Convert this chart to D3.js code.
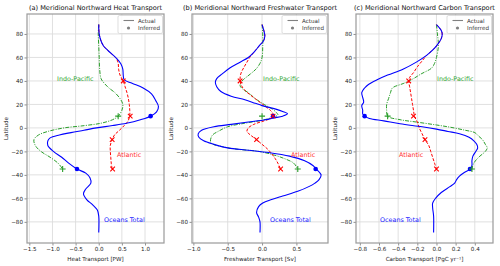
<!DOCTYPE html>
<html>
<head>
<meta charset="utf-8">
<script src="https://cdn.jsdelivr.net/npm/d3@7"></script>
<style>
  body { margin: 0; background: #fff; }
  svg text { font-family: "DejaVu Sans", sans-serif; }
</style>
</head>
<body>
<div id="chart"></div>
<script>
"use strict";

var w = 500,
  h = 266;

// latitude ticks shared by all panels
var latTicks = [-80, -60, -40, -20, 0, 20, 40, 60, 80];

// (a) heat transport [lat, PW]
var heatTotal = [[88, 0.0], [80, 0.01], [74, 0.05], [70, 0.1], [65.5, 0.21], [59, 0.39], [54.5, 0.48], [50, 0.52], [44.6, 0.53],
  [41, 0.55], [38, 0.72], [34, 0.96], [29, 1.14], [23.4, 1.23], [18.3, 1.29], [13.6, 1.25], [10, 1.12], [7, 0.9], [4, 0.6],
  [2, 0.3], [0, -0.05], [-2, -0.32], [-4, -0.6], [-6, -0.85], [-8.5, -1.05], [-11, -1.1], [-15, -1.1], [-20, -0.98],
  [-25, -0.8], [-30, -0.65], [-35, -0.47], [-38.5, -0.28], [-42.5, -0.19], [-47, -0.17], [-52, -0.28], [-56, -0.33],
  [-61, -0.26], [-65.5, -0.13], [-70, -0.03], [-75, 0.0], [-89, 0.0]];
var heatAtl = [[88, 0.0], [80, 0.01], [74, 0.05], [70, 0.1], [65.5, 0.21], [59, 0.38], [55, 0.42], [50, 0.43], [45, 0.46],
  [40, 0.53], [35, 0.57], [30, 0.61], [25, 0.64], [20, 0.66], [15, 0.67], [10, 0.67], [5, 0.62], [2, 0.55], [0, 0.5],
  [-3, 0.42], [-6, 0.34], [-10, 0.29], [-15, 0.25], [-20, 0.25], [-25, 0.26], [-30, 0.27], [-35, 0.29]];
var heatIndo = [[88, 0.0], [80, -0.01], [70, 0.0], [60, 0.01], [50, 0.02], [42, 0.05], [38, 0.12], [34, 0.22], [30, 0.35],
  [25, 0.46], [20, 0.52], [15, 0.5], [10, 0.42], [7, 0.3], [4, 0.05], [2, -0.3], [0, -0.75], [-3, -1.1], [-6, -1.3],
  [-10, -1.4], [-15, -1.37], [-20, -1.25], [-25, -1.05], [-30, -0.88], [-35, -0.78]];
var heatTotalInf = [[10, 1.12], [-35, -0.47]];
var heatAtlInf = [[40, 0.53], [10, 0.68], [-10, 0.29], [-35, 0.3]];
var heatIndoInf = [[10, 0.42], [-35, -0.78]];

// (b) freshwater transport [lat, Sv]
var fwTotal = [[88, 0.0], [82, 0.03], [78, 0.04], [74, 0.02], [70, -0.04], [65, -0.11], [60, -0.2], [56, -0.32], [51, -0.47],
  [46, -0.58], [42, -0.66], [39, -0.68], [35, -0.66], [31, -0.6], [27, -0.45], [24, -0.25], [21, -0.1], [19, 0.0],
  [16, 0.2], [14, 0.3], [12, 0.37], [10, 0.3], [8.5, 0.17], [7, 0.05], [5, -0.2], [3, -0.45], [1, -0.7], [-2, -0.88],
  [-5, -0.93], [-8, -0.92], [-11, -0.85], [-14, -0.7], [-17, -0.5], [-19, -0.2], [-21, 0.1], [-24, 0.4], [-28, 0.62],
  [-32, 0.74], [-35, 0.79], [-40, 0.86], [-44, 0.83], [-47, 0.77], [-50, 0.68], [-54, 0.52], [-58, 0.3], [-61, 0.14],
  [-64, 0.01], [-67, -0.05], [-72, -0.08], [-76, -0.05], [-80, -0.03], [-89, -0.03]];
var fwAtl = [[88, 0.0], [82, 0.03], [78, 0.04], [74, 0.02], [70, -0.04], [65, -0.11], [60, -0.18], [56, -0.22], [52, -0.26],
  [46, -0.31], [40, -0.32], [36, -0.3], [32, -0.25], [28, -0.17], [24, -0.08], [20, 0.01], [15, 0.12], [12, 0.16],
  [10, 0.16], [8, 0.12], [6, 0.03], [3, -0.12], [0, -0.2], [-3, -0.22], [-6, -0.17], [-10, -0.08], [-14, 0.0],
  [-18, 0.08], [-22, 0.14], [-26, 0.19], [-30, 0.23], [-35, 0.27]];
var fwIndo = [[88, 0.0], [80, 0.01], [70, 0.01], [60, 0.0], [55, -0.03], [50, -0.09], [45, -0.19], [40, -0.29], [36, -0.32],
  [33, -0.28], [30, -0.2], [25, -0.1], [20, 0.03], [16, 0.15], [13, 0.21], [11, 0.23], [9, 0.15], [6.5, 0.0],
  [4, -0.25], [1, -0.5], [-3, -0.64], [-6, -0.72], [-10, -0.75], [-13, -0.74], [-16, -0.58], [-18, -0.38], [-20, -0.05],
  [-23, 0.17], [-26, 0.32], [-30, 0.46], [-35, 0.52]];
var fwTotalInf = [[10, 0.16], [-35, 0.78]];
var fwAtlInf = [[40, -0.32], [10, 0.16], [-10, -0.08], [-35, 0.27]];
var fwIndoInf = [[10, 0.0], [-35, 0.52]];

// (c) carbon transport [lat, PgC/yr]
var cTotal = [[88, 0.0], [83, 0.05], [80, 0.06], [76, 0.05], [72, 0.02], [67, -0.03], [62, -0.1], [56, -0.21], [50, -0.35],
  [45, -0.51], [41, -0.62], [37, -0.71], [34, -0.75], [30, -0.78], [26, -0.77], [22, -0.76], [19, -0.78], [15, -0.77],
  [12, -0.77], [10, -0.75], [8, -0.7], [6, -0.55], [3.5, -0.38], [1, -0.15], [-1, 0.0], [-3, 0.12], [-5, 0.24],
  [-8, 0.34], [-11, 0.39], [-14, 0.42], [-17, 0.43], [-20, 0.41], [-24, 0.38], [-28, 0.37], [-32, 0.37], [-35, 0.35],
  [-38, 0.29], [-41, 0.24], [-44, 0.21], [-47, 0.19], [-50, 0.14], [-55, 0.05], [-60, -0.01], [-64, -0.04],
  [-68, -0.04], [-75, -0.03], [-89, -0.03]];
var cAtl = [[88, 0.0], [83, 0.05], [80, 0.06], [76, 0.05], [72, 0.02], [67, -0.03], [62, -0.1], [57, -0.15], [52, -0.2],
  [47, -0.24], [43, -0.28], [40, -0.29], [35, -0.28], [30, -0.27], [25, -0.26], [20, -0.25], [15, -0.24], [10, -0.23],
  [5, -0.2], [0, -0.18], [-5, -0.15], [-10, -0.12], [-15, -0.08], [-20, -0.06], [-25, -0.04], [-30, -0.02], [-35, 0.0]];
var cIndo = [[88, 0.0], [80, 0.01], [70, 0.02], [60, 0.0], [55, -0.02], [51, -0.05], [46, -0.16], [42, -0.24], [38, -0.34],
  [34, -0.46], [30, -0.48], [25, -0.5], [20, -0.52], [15, -0.52], [10, -0.51], [7, -0.38], [5, -0.21], [2.5, 0.0],
  [0.5, 0.15], [-2, 0.3], [-4, 0.4], [-7, 0.44], [-10, 0.48], [-14, 0.51], [-17, 0.53], [-20, 0.51], [-25, 0.44],
  [-30, 0.39], [-35, 0.37]];
var cTotalInf = [[10, -0.75], [-35, 0.35]];
var cAtlInf = [[40, -0.29], [10, -0.24], [-10, -0.12], [-35, 0.0]];
var cIndoInf = [[10, -0.51], [-35, 0.37]];

var panels = [
  { title: "(a) Meridional Northward Heat Transport", xlabel: "Heat Transport [PW]", x0: 27, x1: 164,
    domain: [-1.55, 1.41], ticks: [-1.5, -1.0, -0.5, 0.0, 0.5, 1.0],
    total: heatTotal, atl: heatAtl, indo: heatIndo, totalInf: heatTotalInf, atlInf: heatAtlInf, indoInf: heatIndoInf,
    indoLabel: [57, 81], atlLabel: [117, 157], totLabel: [104, 222] },
  { title: "(b) Meridional Northward Freshwater Transport", xlabel: "Freshwater Transport [Sv]", x0: 192, x1: 328,
    domain: [-1.02, 0.96], ticks: [-1.0, -0.5, 0.0, 0.5],
    total: fwTotal, atl: fwAtl, indo: fwIndo, totalInf: fwTotalInf, atlInf: fwAtlInf, indoInf: fwIndoInf,
    indoLabel: [263, 81], atlLabel: [291, 157], totLabel: [270, 222] },
  { title: "(c) Meridional Northward Carbon Transport", xlabel: "Carbon Transport [PgC yr\u207B\u00B9]", x0: 356, x1: 493,
    domain: [-0.84, 0.59], ticks: [-0.8, -0.6, -0.4, -0.2, 0.0, 0.2, 0.4],
    total: cTotal, atl: cAtl, indo: cIndo, totalInf: cTotalInf, atlInf: cAtlInf, indoInf: cIndoInf,
    indoLabel: [437, 81], atlLabel: [399, 157], totLabel: [380, 222] }
];

var plotTop = 14, plotBottom = 243;
var green = "#2a9e2a";

var svg = d3.select("#chart").append("svg").attr("width", w).attr("height", h);

var y = d3.scaleLinear().domain([-98, 97]).range([plotBottom, plotTop]);

var fmt = function (d) {
  return d3.format(".1f")(d).replace("-", "\u2212");
};

var drawPanel = function (p) {
  var x = d3.scaleLinear().domain(p.domain).range([p.x0, p.x1]);
  var g = svg.append("g");

  // grid
  g.selectAll(".gx").data(p.ticks).enter().append("line")
    .attr("x1", function (d) { return x(d); }).attr("x2", function (d) { return x(d); })
    .attr("y1", plotTop).attr("y2", plotBottom)
    .attr("stroke", "#dcdcdc").attr("stroke-width", 0.9);
  g.selectAll(".gy").data(latTicks).enter().append("line")
    .attr("x1", p.x0).attr("x2", p.x1)
    .attr("y1", function (d) { return y(d); }).attr("y2", function (d) { return y(d); })
    .attr("stroke", "#dcdcdc").attr("stroke-width", 0.9);

  // axes
  var xAxis = d3.axisBottom(x).tickValues(p.ticks).tickFormat(fmt).tickSize(2.5).tickPadding(1.5);
  var yAxis = d3.axisLeft(y).tickValues(latTicks).tickFormat(function (d) { return String(d).replace("-", "\u2212"); })
    .tickSize(2.5).tickPadding(1.5);
  var ax = g.append("g").attr("transform", "translate(0," + plotBottom + ")").call(xAxis);
  var ay = g.append("g").attr("transform", "translate(" + p.x0 + ",0)").call(yAxis);
  [ax, ay].forEach(function (a) {
    a.select(".domain").remove();
    a.selectAll(".tick line").attr("stroke", "#444").attr("stroke-width", 0.6);
    a.selectAll(".tick text").attr("fill", "#222").style("font-size", "5.6px")
      .style("font-family", "DejaVu Sans, sans-serif");
  });

  // frame
  g.append("rect").attr("x", p.x0).attr("y", plotTop).attr("width", p.x1 - p.x0).attr("height", plotBottom - plotTop)
    .attr("fill", "none").attr("stroke", "#9a9a9a").attr("stroke-width", 1.2);

  // curves
  var line = d3.line()
    .x(function (d) { return x(d[1]); })
    .y(function (d) { return y(d[0]); })
    .curve(d3.curveCatmullRom.alpha(0.5));

  g.append("path").datum(p.indo).attr("d", line).attr("fill", "none")
    .attr("stroke", green).attr("stroke-width", 1).attr("stroke-dasharray", "4,1.3,1,1.3");
  g.append("path").datum(p.atl).attr("d", line).attr("fill", "none")
    .attr("stroke", "#ff0000").attr("stroke-width", 1).attr("stroke-dasharray", "3,1.6");
  g.append("path").datum(p.total).attr("d", line).attr("fill", "none")
    .attr("stroke", "#0000ff").attr("stroke-width", 1.1);

  // inferred markers
  g.selectAll(".ti").data(p.totalInf).enter().append("circle")
    .attr("cx", function (d) { return x(d[1]); }).attr("cy", function (d) { return y(d[0]); })
    .attr("r", 2.3).attr("fill", "#0000ff");
  g.selectAll(".ai").data(p.atlInf).enter().append("path")
    .attr("d", function (d) {
      var cx = x(d[1]), cy = y(d[0]), s = 2.3;
      return "M" + (cx - s) + "," + (cy - s) + "L" + (cx + s) + "," + (cy + s) +
        "M" + (cx - s) + "," + (cy + s) + "L" + (cx + s) + "," + (cy - s);
    })
    .attr("stroke", "#ff0000").attr("stroke-width", 1.1);
  g.selectAll(".ii").data(p.indoInf).enter().append("path")
    .attr("d", function (d) {
      var cx = x(d[1]), cy = y(d[0]), s = 3;
      return "M" + (cx - s) + "," + cy + "L" + (cx + s) + "," + cy +
        "M" + cx + "," + (cy - s) + "L" + cx + "," + (cy + s);
    })
    .attr("stroke", green).attr("stroke-width", 1.1);

  // region labels
  g.append("text").attr("x", p.indoLabel[0]).attr("y", p.indoLabel[1]).text("Indo-Pacific")
    .attr("fill", "#33a833").style("font-size", "6.4px");
  g.append("text").attr("x", p.atlLabel[0]).attr("y", p.atlLabel[1]).text("Atlantic")
    .attr("fill", "#ff3030").style("font-size", "6.4px");
  g.append("text").attr("x", p.totLabel[0]).attr("y", p.totLabel[1]).text("Oceans Total")
    .attr("fill", "#1a1aff").style("font-size", "6.4px");

  // legend
  var lx = p.x1 - 46;
  var lg = g.append("g").attr("transform", "translate(" + lx + "," + (plotTop + 1.5) + ")");
  lg.append("rect").attr("width", 44.5).attr("height", 18).attr("rx", 1.5)
    .attr("fill", "#fff").attr("fill-opacity", 0.85).attr("stroke", "#d0d0d0").attr("stroke-width", 0.7);
  lg.append("line").attr("x1", 5.5).attr("x2", 16).attr("y1", 5).attr("y2", 5)
    .attr("stroke", "#808080").attr("stroke-width", 1.1);
  lg.append("circle").attr("cx", 10.5).attr("cy", 12.5).attr("r", 1.6).attr("fill", "#808080");
  lg.append("text").attr("x", 20).attr("y", 7).text("Actual").attr("fill", "#333").style("font-size", "5.6px");
  lg.append("text").attr("x", 20).attr("y", 14.5).text("Inferred").attr("fill", "#333").style("font-size", "5.6px");

  // titles and labels
  g.append("text").attr("x", (p.x0 + p.x1) / 2).attr("y", 9.5).attr("text-anchor", "middle")
    .text(p.title).attr("fill", "#111").style("font-size", "6.6px");
  g.append("text").attr("x", (p.x0 + p.x1) / 2).attr("y", 260.5).attr("text-anchor", "middle")
    .text(p.xlabel).attr("fill", "#222").style("font-size", "5.6px");
  g.append("text").attr("transform", "translate(" + (p.x0 - 19) + "," + ((plotTop + plotBottom) / 2) + ") rotate(-90)")
    .attr("text-anchor", "middle").text("Latitude").attr("fill", "#222").style("font-size", "5.6px");
};

panels.forEach(drawPanel);
</script>
</body>
</html>
